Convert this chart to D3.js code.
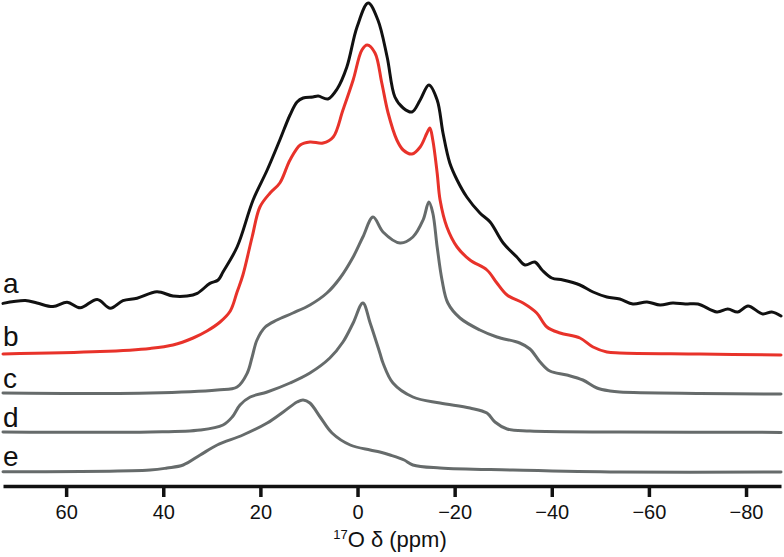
<!DOCTYPE html>
<html><head><meta charset="utf-8">
<script src="https://cdn.jsdelivr.net/npm/d3@7"></script>
<style>
html,body{margin:0;padding:0;background:#fff;}
svg{display:block;font-family:"Liberation Sans",Arial,sans-serif;}
</style>
</head><body>
<svg id="chart" width="784" height="557"></svg>
<script>
// ---- data (ppm, intensity above own baseline) ----
const seriesNames = ["a", "b", "c", "d", "e"];
const seriesColors = ["#111111", "#e8322a", "#666b6b", "#666b6b", "#666b6b"];
const seriesOffsets = [45.75, 33, 23.25, 13.5, 3.75];
const tickValues = [60, 40, 20, 0, -20, -40, -60, -80];
const xDomain = [73, -87.2];

const seriesA = [
  [73.0,-0.1],[68.4,0.6],[66.0,0],[62.7,-0.9],[59.8,0.2],[57.1,-1.2],[53.6,0.9],[50.9,-1.3],
  [48.3,0.6],[45.4,1.2],[41.3,2.8],[38.0,1.75],[35.1,1.75],[33.0,2.4],[30.4,4.9],[28.7,5.75],
  [27.7,7.75],[24.8,14],[21.5,25.75],[18.6,33.25],[16.0,40.75],[13.9,47],[12.45,50.25],[11.2,51.25],
  [9.2,51.5],[8.1,51.75],[6.1,51],[4.2,53.5],[2.2,59],[0.1,69],[-2.2,75],[-4.2,70.75],
  [-6.1,61.5],[-7.7,51.5],[-9.4,48.75],[-11.2,47.75],[-12.9,50.75],[-14.7,54.5],[-16.4,50.75],
  [-17.6,42.5],[-19.0,35],[-20.5,30.75],[-22.5,26.5],[-25.2,22.5],[-27.3,20.25],[-30.0,15],
  [-32.8,11.5],[-34.5,9.5],[-36.5,10.25],[-38.0,8.25],[-40.0,6.25],[-42.3,5.75],[-45.8,4.5],
  [-48.5,2.75],[-51.35,1.5],[-54.0,1],[-56.7,-0.25],[-59.6,0.25],[-62.3,-0.5],[-64.9,0],
  [-67.5,-0.25],[-70.1,-0.25],[-74.0,-2.25],[-76.25,-1.5],[-78.3,-2.25],[-80.4,-0.75],
  [-83.45,-2.75],[-85.3,-2.25],[-87.2,-3.25]
];
const seriesB = [
  [73.0,0],[53.0,0.6],[42.7,1.4],[38.0,2.25],[33.85,4],[31.0,5.75],[28.3,8],[26.2,10.75],
  [24.8,15.5],[23.6,19.75],[21.7,29.25],[20.1,36.75],[18.0,40.25],[16.0,42.75],[13.9,48.5],
  [11.8,52.25],[9.8,53],[7.1,52.75],[5.0,54.25],[3.0,61],[0.9,68.5],[-0.9,76],[-2.0,77.25],
  [-3.6,75.25],[-5.0,67.75],[-6.3,60.25],[-8.1,53.5],[-9.4,51],[-11.2,50],[-12.9,51.75],
  [-14.3,55.25],[-14.9,56.5],[-15.5,53.5],[-16.4,45.25],[-17.0,38.5],[-18.4,31.75],[-20.5,26.75],
  [-23.15,23.5],[-26.65,21],[-28.7,17.75],[-30.8,14.75],[-34.1,12.75],[-36.9,10.25],[-39.0,6.75],
  [-41.7,5.25],[-45.8,4],[-48.5,1.75],[-51.35,0.5],[-54.0,0.25],[-70.5,0],[-87.2,-0.25]
];
const seriesC = [
  [73.0,0],[42.7,0],[28.9,0.75],[24.8,1.5],[22.7,5],[21.7,9],[20.7,13.25],[19.0,16.5],
  [16.6,18.25],[13.3,20],[9.8,22],[6.3,25],[3.6,28.75],[0.9,34],[-1.1,39],[-3.2,44],
  [-5.25,40.25],[-8.75,37.5],[-11.4,39],[-13.5,43.25],[-14.7,47.75],[-15.5,45],[-16.4,36.5],
  [-17.4,28.25],[-18.6,22.5],[-21.1,18.75],[-25.2,15.75],[-28.7,14],[-33.4,12.5],[-35.5,11],
  [-37.6,7.75],[-39.6,5.5],[-43.1,4.5],[-46.4,3.25],[-49.3,1.25],[-52.0,0.5],[-54.0,0.25],
  [-70.5,-0.1],[-87.2,-0.25]
];
const seriesD = [
  [73.0,0],[42.7,0],[32.4,0.5],[27.7,1.75],[25.8,3.75],[24.2,6.75],[22.1,8.75],[18.6,10],
  [13.9,12.25],[9.8,14.75],[5.7,18.5],[3.0,22.5],[0.9,27.25],[-1.1,32.25],[-2.6,27.25],
  [-4.6,19.75],[-5.25,17.25],[-7.3,12.25],[-11.4,8.75],[-17.0,7.25],[-23.15,6],[-26.65,4.75],
  [-28.3,2.5],[-30.8,0.75],[-35.5,0.25],[-54.0,0],[-87.2,-0.1]
];
const seriesE = [
  [73.0,-0.2],[42.7,0.25],[39.2,0.75],[35.9,1.5],[32.4,4],[28.9,6.5],[23.6,9],[18.6,12],
  [15.3,14.75],[12.45,17.25],[11.2,17.75],[9.8,17],[7.7,13.5],[5.25,9.5],[1.5,6.5],[-2.6,5.25],
  [-4.6,4.75],[-6.7,4],[-9.6,2.75],[-11.4,1.5],[-17.0,0.75],[-32.0,0.25],[-54.0,-0.25],[-87.2,-0.25]
];
const allSeries = [seriesA, seriesB, seriesC, seriesD, seriesE];

// ---- layout ----
const svg = d3.select("#chart");
const x = d3.scaleLinear().domain(xDomain).range([3, 781]);
const y = d3.scaleLinear().domain([0, 120]).range([486, 6]);

const line = d3.line()
  .x(d => x(d[0]))
  .y(d => y(d[1]))
  .curve(d3.curveCatmullRom.alpha(0.5));

allSeries.forEach((s, i) => {
  const off = seriesOffsets[i];
  svg.append("path")
    .datum(s.map(p => [p[0], p[1] + off]))
    .attr("fill", "none")
    .attr("stroke", seriesColors[i])
    .attr("stroke-width", 3)
    .attr("stroke-linejoin", "round")
    .attr("stroke-linecap", "round")
    .attr("d", line);
});

// series labels
const labelBaselines = [293, 346, 388, 427, 466];
seriesNames.forEach((n, i) => {
  svg.append("text")
    .attr("x", 3)
    .attr("y", labelBaselines[i])
    .attr("font-size", 28)
    .attr("fill", "#111")
    .text(n);
});

// axis
const axis = d3.axisBottom(x)
  .tickValues(tickValues)
  .tickFormat(d3.format("d"))
  .tickSizeInner(11)
  .tickSizeOuter(0)
  .tickPadding(8);
const gAxis = svg.append("g").attr("transform", "translate(0,486)").call(axis);
gAxis.select(".domain").attr("stroke", "#111").attr("stroke-width", 3.5);
gAxis.selectAll(".tick line").attr("stroke", "#111").attr("stroke-width", 3.5);
gAxis.selectAll(".tick text").attr("fill", "#111")
  .style("font-family", "'Liberation Sans',Arial,sans-serif").style("font-size", "20px");

// axis title
const title = svg.append("text")
  .attr("x", 390).attr("y", 547)
  .attr("text-anchor", "middle")
  .attr("font-size", 22)
  .attr("fill", "#111");
title.append("tspan").attr("font-size", 13).attr("dy", -8).text("17");
title.append("tspan").attr("dy", 8).text("O δ (ppm)");
</script>
</body></html>
